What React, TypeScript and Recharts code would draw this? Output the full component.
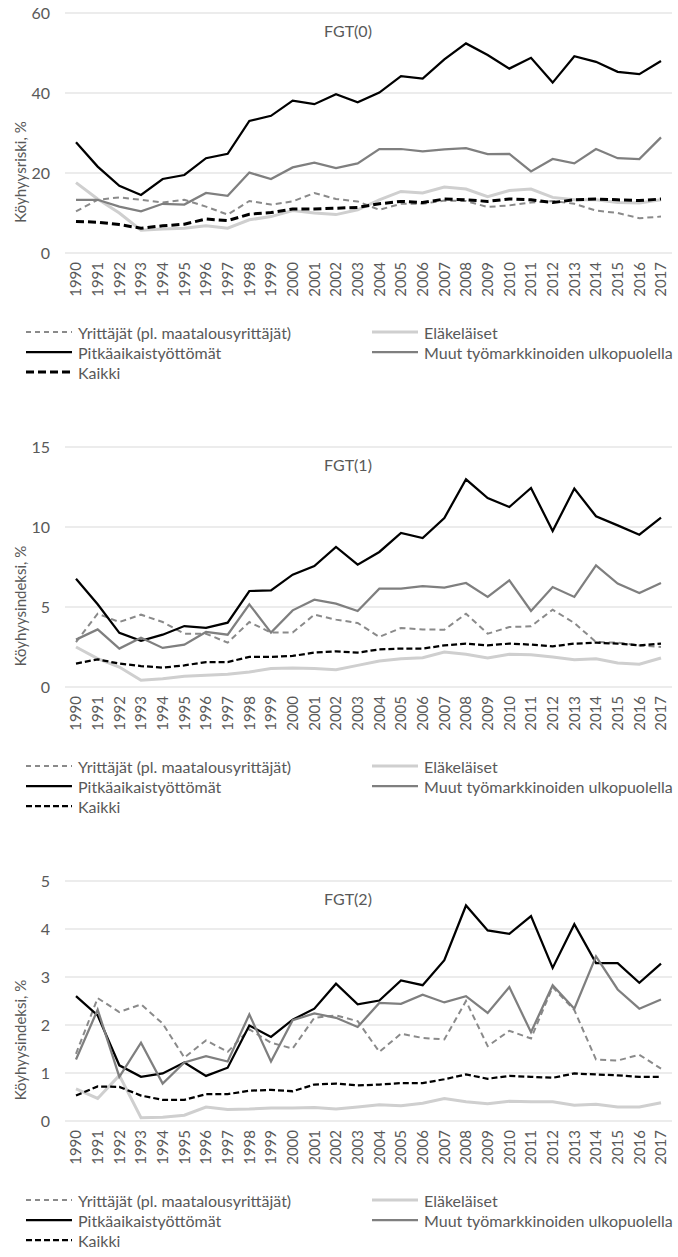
import React from 'react';
import { LineChart, Line, XAxis, YAxis, CartesianGrid, Legend } from 'recharts';

const years = [
  '1990', '1991', '1992', '1993', '1994', '1995', '1996', '1997', '1998', '1999',
  '2000', '2001', '2002', '2003', '2004', '2005', '2006', '2007', '2008', '2009',
  '2010', '2011', '2012', '2013', '2014', '2015', '2016', '2017',
];

const seriesNames = [
  'Yrittäjät (pl. maatalousyrittäjät)',
  'Eläkeläiset',
  'Pitkäaikaistyöttömät',
  'Muut työmarkkinoiden ulkopuolella',
  'Kaikki',
];

// FGT(0) – köyhyysriski
const fgt0Yrittajat = [10.4, 13.3, 13.9, 13.3, 12.6, 13.3, 11.6, 9.6, 13.0, 12.1, 12.9, 15.0, 13.5, 12.9, 10.8, 12.3, 12.3, 13.1, 13.0, 11.5, 11.9, 12.6, 13.0, 12.3, 10.6, 10.0, 8.7, 9.1];
const fgt0Elakelaiset = [17.6, 13.5, 10.0, 5.7, 6.0, 6.2, 6.8, 6.2, 8.3, 9.1, 10.6, 10.0, 9.6, 10.8, 13.3, 15.4, 15.0, 16.5, 16.0, 14.1, 15.6, 16.0, 13.9, 13.3, 13.3, 12.6, 12.5, 13.3];
const fgt0Pitka = [27.7, 21.6, 16.8, 14.5, 18.5, 19.5, 23.7, 24.8, 33.0, 34.3, 38.1, 37.2, 39.7, 37.7, 40.1, 44.2, 43.6, 48.4, 52.4, 49.5, 46.1, 48.8, 42.6, 49.2, 47.8, 45.3, 44.7, 48.0];
const fgt0Muut = [13.3, 13.3, 11.6, 10.4, 12.3, 12.1, 15.0, 14.3, 20.1, 18.5, 21.4, 22.6, 21.2, 22.4, 26.0, 26.0, 25.4, 25.9, 26.2, 24.7, 24.8, 20.4, 23.5, 22.4, 26.0, 23.7, 23.5, 28.9];
const fgt0Kaikki = [7.9, 7.7, 7.1, 6.2, 6.8, 7.2, 8.5, 8.1, 9.7, 10.1, 11.0, 11.0, 11.2, 11.4, 12.3, 12.9, 12.6, 13.5, 13.3, 12.9, 13.5, 13.3, 12.6, 13.3, 13.5, 13.3, 13.1, 13.5];

// FGT(1) – köyhyysindeksi
const fgt1Yrittajat = [2.81, 4.58, 4.06, 4.52, 4.06, 3.33, 3.33, 2.77, 4.06, 3.4, 3.4, 4.52, 4.21, 4.0, 3.13, 3.69, 3.6, 3.58, 4.58, 3.33, 3.75, 3.79, 4.83, 4.0, 2.81, 2.77, 2.6, 2.5];
const fgt1Elakelaiset = [2.5, 1.77, 1.25, 0.42, 0.52, 0.67, 0.73, 0.79, 0.94, 1.15, 1.19, 1.15, 1.08, 1.35, 1.63, 1.77, 1.83, 2.19, 2.04, 1.81, 2.04, 2.02, 1.88, 1.71, 1.77, 1.5, 1.42, 1.81];
const fgt1Pitka = [6.77, 5.17, 3.38, 2.88, 3.27, 3.81, 3.69, 4.02, 6.0, 6.04, 7.02, 7.56, 8.75, 7.65, 8.44, 9.63, 9.31, 10.56, 12.98, 11.81, 11.25, 12.44, 9.75, 12.4, 10.67, 10.1, 9.52, 10.58];
const fgt1Muut = [2.96, 3.6, 2.4, 3.08, 2.44, 2.65, 3.44, 3.27, 5.17, 3.4, 4.79, 5.46, 5.21, 4.75, 6.15, 6.15, 6.31, 6.21, 6.5, 5.63, 6.67, 4.75, 6.25, 5.63, 7.6, 6.46, 5.88, 6.5];
const fgt1Kaikki = [1.46, 1.73, 1.46, 1.31, 1.21, 1.35, 1.56, 1.56, 1.88, 1.88, 1.94, 2.15, 2.23, 2.15, 2.35, 2.4, 2.4, 2.6, 2.71, 2.6, 2.71, 2.65, 2.54, 2.71, 2.77, 2.71, 2.6, 2.71];

// FGT(2) – köyhyysindeksi
const fgt2Yrittajat = [1.4, 2.56, 2.27, 2.43, 2.03, 1.32, 1.68, 1.44, 1.91, 1.63, 1.51, 2.15, 2.2, 2.08, 1.44, 1.82, 1.73, 1.7, 2.5, 1.56, 1.88, 1.72, 2.79, 2.31, 1.28, 1.26, 1.38, 1.09];
const fgt2Elakelaiset = [0.67, 0.47, 0.95, 0.07, 0.08, 0.12, 0.29, 0.24, 0.25, 0.27, 0.27, 0.28, 0.25, 0.29, 0.34, 0.32, 0.37, 0.47, 0.4, 0.36, 0.41, 0.4, 0.4, 0.33, 0.35, 0.29, 0.29, 0.38];
const fgt2Pitka = [2.6, 2.2, 1.16, 0.92, 0.99, 1.22, 0.94, 1.11, 1.99, 1.75, 2.11, 2.34, 2.86, 2.43, 2.51, 2.93, 2.83, 3.35, 4.49, 3.97, 3.9, 4.27, 3.19, 4.1, 3.29, 3.29, 2.88, 3.28];
const fgt2Muut = [1.28, 2.32, 0.92, 1.63, 0.78, 1.22, 1.35, 1.24, 2.22, 1.24, 2.1, 2.24, 2.15, 1.96, 2.46, 2.44, 2.63, 2.47, 2.6, 2.25, 2.79, 1.85, 2.83, 2.34, 3.43, 2.74, 2.34, 2.53];
const fgt2Kaikki = [0.53, 0.72, 0.71, 0.53, 0.44, 0.44, 0.56, 0.56, 0.63, 0.65, 0.62, 0.76, 0.78, 0.74, 0.76, 0.79, 0.79, 0.87, 0.97, 0.88, 0.94, 0.92, 0.9, 0.99, 0.97, 0.95, 0.92, 0.92];

const keys = ['yrittajat', 'elakelaiset', 'pitka', 'muut', 'kaikki'];

const build = (a: number[], b: number[], c: number[], d: number[], e: number[]) =>
  years.map((year, i) => ({
    year,
    yrittajat: a[i],
    elakelaiset: b[i],
    pitka: c[i],
    muut: d[i],
    kaikki: e[i],
  }));

const FONT = 'Lato, "Open Sans", sans-serif';
const TEXT = '#595959';

const styles = [
  { stroke: '#8a8a8a', width: 2, dash: '6 4' },
  { stroke: '#cfcfcf', width: 3, dash: undefined },
  { stroke: '#000000', width: 2.25, dash: undefined },
  { stroke: '#7f7f7f', width: 2.25, dash: undefined },
  { stroke: '#000000', width: 2.25, dash: '6 3' },
];

const YearTick = (props: any) => {
  const { x, y, payload } = props;
  return (
    <g transform={`translate(${x},${y})`}>
      <text
        transform="rotate(-90)"
        x={-9}
        y={0}
        dy="0.36em"
        textAnchor="end"
        fill={TEXT}
        fontSize={15}
        fontFamily={FONT}
      >
        {payload.value}
      </text>
    </g>
  );
};

const makeLegend = (kaikkiWidth: number, kaikkiDash: string) => () => (
  <div style={{ position: 'relative', width: 678, height: 62, fontFamily: FONT, fontSize: 16, color: TEXT }}>
    {seriesNames.map((name, i) => {
      const s = styles[i];
      const w = i === 4 ? kaikkiWidth : s.width;
      const dash = i === 4 ? kaikkiDash : i === 0 ? '5 4' : s.dash;
      return (
        <div
          key={name}
          style={{
            position: 'absolute',
            left: i % 2 === 0 ? 26 : 372,
            top: Math.floor(i / 2) * 20,
            height: 20,
            display: 'flex',
            alignItems: 'center',
            whiteSpace: 'nowrap',
          }}
        >
          <svg width={46} height={6}>
            <line x1={0} y1={3} x2={46} y2={3} stroke={s.stroke} strokeWidth={w} strokeDasharray={dash} />
          </svg>
          <span style={{ marginLeft: 6 }}>{name}</span>
        </div>
      );
    })}
  </div>
);

type PanelProps = {
  data: any[];
  title: string;
  yLabel: string;
  max: number;
  ticks: number[];
  kaikkiWidth: number;
  kaikkiDash: string;
};

const Panel = ({ data, title, yLabel, max, ticks, kaikkiWidth, kaikkiDash }: PanelProps) => (
  <LineChart width={678} height={434} data={data} margin={{ top: 13, right: 6, left: 0, bottom: 131 }}>
    <CartesianGrid vertical={false} stroke="#d9d9d9" strokeWidth={1} />
    <XAxis
      dataKey="year"
      interval={0}
      padding={{ left: 11, right: 11 }}
      axisLine={false}
      tickLine={false}
      tickSize={0}
      tickMargin={0}
      height={50}
      tick={<YearTick />}
    />
    <YAxis
      domain={[0, max]}
      ticks={ticks}
      width={65}
      axisLine={false}
      tickLine={false}
      tickMargin={9}
      tick={{ fill: TEXT, fontSize: 16, fontFamily: FONT }}
    />
    <Legend
      layout="vertical"
      align="center"
      verticalAlign="middle"
      wrapperStyle={{ top: 322, left: 0, width: 678, height: 62 }}
      content={makeLegend(kaikkiWidth, kaikkiDash)}
    />
    {keys.map((k, i) => {
      const s = styles[i];
      return (
        <Line
          key={k}
          type="linear"
          dataKey={k}
          name={seriesNames[i]}
          stroke={s.stroke}
          strokeWidth={i === 4 ? kaikkiWidth : s.width}
          strokeDasharray={i === 4 ? kaikkiDash : s.dash}
          dot={false}
          activeDot={false}
          isAnimationActive={false}
        />
      );
    })}
    <text x={348} y={30} textAnchor="middle" dominantBaseline="central" fill={TEXT} fontSize={16} fontFamily={FONT}>
      {title}
    </text>
    <text
      transform="translate(20,172) rotate(-90)"
      textAnchor="middle"
      dominantBaseline="central"
      fill={TEXT}
      fontSize={15}
      fontFamily={FONT}
    >
      {yLabel}
    </text>
  </LineChart>
);

export default function App() {
  return (
    <div style={{ position: 'absolute', top: 0, left: 0, width: 678, height: 1257, background: '#fff' }}>
      <Panel
        data={build(fgt0Yrittajat, fgt0Elakelaiset, fgt0Pitka, fgt0Muut, fgt0Kaikki)}
        title="FGT(0)"
        yLabel="Köyhyysriski, %"
        max={60}
        ticks={[0, 20, 40, 60]}
        kaikkiWidth={3}
        kaikkiDash="8 4"
      />
      <Panel
        data={build(fgt1Yrittajat, fgt1Elakelaiset, fgt1Pitka, fgt1Muut, fgt1Kaikki)}
        title="FGT(1)"
        yLabel="Köyhyysindeksi, %"
        max={15}
        ticks={[0, 5, 10, 15]}
        kaikkiWidth={2.25}
        kaikkiDash="6 3"
      />
      <Panel
        data={build(fgt2Yrittajat, fgt2Elakelaiset, fgt2Pitka, fgt2Muut, fgt2Kaikki)}
        title="FGT(2)"
        yLabel="Köyhyysindeksi, %"
        max={5}
        ticks={[0, 1, 2, 3, 4, 5]}
        kaikkiWidth={2.25}
        kaikkiDash="6 3"
      />
    </div>
  );
}
